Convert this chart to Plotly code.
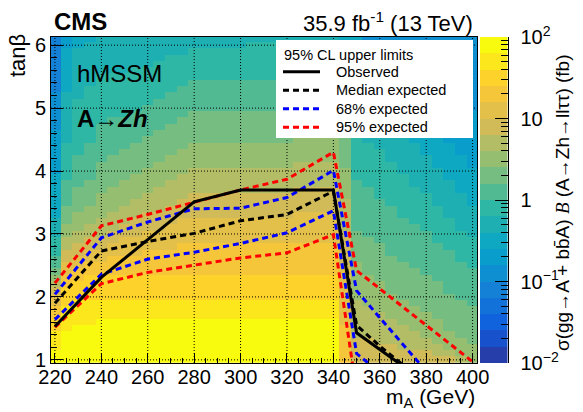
import plotly.graph_objects as go

# ---------------------------------------------------------------- data
# Bin centres of the cross-section map
MA_BINS = [220, 225, 230, 235, 240, 245, 250, 255, 260, 265, 270, 275, 280,
           285, 290, 295, 300, 305, 310, 315, 320, 325, 330, 335, 340, 345,
           350, 355, 360, 365, 370, 375, 380, 385, 390, 395, 400]
TANB_BINS = [1.0, 1.1, 1.2, 1.3, 1.4, 1.5, 1.6, 1.7, 1.8, 1.9,
             2.0, 2.1, 2.2, 2.3, 2.4, 2.5, 2.6, 2.7, 2.8, 2.9,
             3.0, 3.1, 3.2, 3.3, 3.4, 3.5, 3.6, 3.7, 3.8, 3.9,
             4.0, 4.1, 4.2, 4.3, 4.4, 4.5, 4.6, 4.7, 4.8, 4.9,
             5.0, 5.1, 5.2, 5.3, 5.4, 5.5, 5.6, 5.7, 5.8, 5.9,
             6.0, 6.1]

# sigma x B colour band per bin (band 0 = 10^-2 fb ... band 19 = 10^2 fb, 5 bands per decade),
# run-length encoded "band:count" going up in tanb from tanb = 1.0
BAND_RUNS = {
    220: "19:2 18:3 17:2 16:2 15:2 14:1 13:1 12:1 11:1 10:2 9:3 8:3 7:7 6:7 5:6 4:9",
    225: "19:5 18:4 17:3 16:2 15:2 14:2 13:2 12:2 11:3 10:4 9:6 8:8 7:7 6:2",
    230: "19:6 18:4 17:3 16:2 15:2 14:2 13:2 12:3 11:4 10:5 9:9 8:8 7:2",
    235: "19:6 18:4 17:4 16:2 15:2 14:2 13:2 12:3 11:4 10:6 9:9 8:7 7:1",
    240: "19:7 18:3 17:4 16:2 15:2 14:2 13:3 12:4 11:5 10:6 9:8 8:6",
    245: "19:7 18:3 17:4 16:3 15:2 14:2 13:3 12:4 11:5 10:6 9:7 8:6",
    250: "19:7 18:3 17:4 16:3 15:3 14:2 13:3 12:4 11:5 10:5 9:7 8:6",
    255: "19:7 18:3 17:4 16:3 15:3 14:3 13:3 12:4 11:5 10:5 9:7 8:5",
    260: "19:7 18:3 17:4 16:4 15:3 14:3 13:3 12:4 11:5 10:5 9:6 8:5",
    265: "19:7 18:3 17:4 16:4 15:3 14:3 13:4 12:4 11:5 10:5 9:6 8:4",
    270: "19:7 18:3 17:4 16:4 15:4 14:3 13:4 12:4 11:5 10:5 9:6 8:3",
    275: "19:7 18:3 17:4 16:5 15:4 14:3 13:4 12:4 11:5 10:5 9:5 8:3",
    280: "19:7 18:3 17:4 16:5 15:4 14:4 13:4 12:4 11:5 10:5 9:5 8:2",
    285: "19:7 18:3 17:4 16:5 15:4 14:4 13:4 12:4 11:5 10:5 9:5 8:2",
    290: "19:7 18:3 17:4 16:5 15:4 14:4 13:4 12:4 11:5 10:5 9:5 8:2",
    295: "19:7 18:3 17:4 16:5 15:4 14:4 13:4 12:4 11:5 10:5 9:5 8:2",
    300: "19:7 18:3 17:4 16:5 15:4 14:4 13:4 12:4 11:5 10:5 9:5 8:2",
    305: "19:7 18:3 17:4 16:5 15:4 14:4 13:4 12:4 11:5 10:5 9:6 8:1",
    310: "19:7 18:3 17:4 16:5 15:4 14:4 13:4 12:4 11:5 10:5 9:6 8:1",
    315: "19:7 18:3 17:4 16:5 15:4 14:4 13:4 12:4 11:5 10:5 9:6 8:1",
    320: "19:7 18:3 17:4 16:5 15:4 14:4 13:4 12:4 11:5 10:5 9:6 8:1",
    325: "19:7 18:3 17:4 16:5 15:5 14:4 13:4 12:4 11:5 10:5 9:5 8:1",
    330: "19:7 18:3 17:4 16:5 15:5 14:4 13:4 12:4 11:5 10:5 9:5 8:1",
    335: "19:7 18:3 17:4 16:5 15:5 14:4 13:4 12:4 11:5 10:5 9:5 8:1",
    340: "19:7 18:3 17:4 16:5 15:5 14:4 13:4 12:4 11:5 10:5 9:5 8:1",
    345: "16:6 15:9 14:6 13:5 12:5 11:5 10:6 9:6 8:3 7:1",
    350: "14:4 13:6 12:6 11:5 10:8 9:8 8:6 7:9",
    355: "14:4 13:5 12:5 11:6 10:8 9:7 8:8 7:7 6:1 5:1",
    360: "14:3 13:5 12:5 11:6 10:7 9:8 8:7 7:7 6:2 5:2",
    365: "14:3 13:4 12:4 11:6 10:8 9:7 8:7 7:7 6:2 5:4",
    370: "14:2 13:4 12:4 11:6 10:7 9:7 8:7 7:7 6:3 5:5",
    375: "14:2 13:3 12:4 11:6 10:7 9:6 8:7 7:7 6:4 5:6",
    380: "14:2 13:2 12:4 11:6 10:7 9:6 8:6 7:6 6:6 5:7",
    385: "14:1 13:2 12:4 11:6 10:6 9:6 8:6 7:6 6:7 5:8",
    390: "14:1 13:1 12:3 11:6 10:7 9:5 8:6 7:6 6:7 5:10",
    395: "13:1 12:3 11:6 10:6 9:5 8:6 7:6 6:8 5:11",
    400: "12:3 11:6 10:6 9:5 8:5 7:6 6:9 5:12",
}

# 95% CL upper limits on tanb
OBS_MA = [220, 240, 260, 280, 300, 320, 340, 350, 360, 370]
OBS_TANB = [1.53, 2.31, 2.91, 3.51, 3.70, 3.70, 3.70, 1.43, 1.16, 0.90]

EXP_MA = [220, 240, 260, 280, 300, 320, 340, 350, 360, 370]
EXP_TANB = [1.90, 2.73, 2.88, 3.01, 3.21, 3.31, 3.68, 1.55, 1.22, 0.92]

EXP68_UP_MA = [220, 240, 260, 280, 300, 320, 340, 350, 360, 370, 380]
EXP68_UP_TANB = [2.04, 2.94, 3.19, 3.40, 3.41, 3.58, 4.01, 2.10, 1.67, 1.24, 0.82]
EXP68_DN_MA = [220, 240, 260, 280, 300, 320, 340, 350, 360]
EXP68_DN_TANB = [1.64, 2.36, 2.60, 2.71, 2.85, 3.02, 3.37, 1.10, 0.80]

EXP95_UP_MA = [220, 240, 260, 280, 300, 320, 340, 350, 360, 380, 400]
EXP95_UP_TANB = [2.22, 3.13, 3.31, 3.50, 3.70, 3.87, 4.30, 2.42, 2.13, 1.55, 0.97]
EXP95_DN_MA = [220, 240, 260, 280, 300, 320, 340, 350]
EXP95_DN_TANB = [1.52, 2.21, 2.39, 2.50, 2.62, 2.70, 2.99, 0.50]

# axis ticks
X_TICKS = [220, 240, 260, 280, 300, 320, 340, 360, 380, 400]
Y_TICKS = [1, 2, 3, 4, 5, 6]
Z_TICKS = [-2, -1, 0, 1, 2]
Z_TICKTEXT = ["10<sup>\u22122</sup>", "10<sup>\u22121</sup>", "1", "10", "10<sup>2</sup>"]

LEGEND_TITLE = "95% CL upper limits"
LEGEND_LABELS = ["Observed", "Median expected", "68% expected", "95% expected"]

# ---------------------------------------------------------------- style
FONT = "Liberation Sans"
# ROOT kBird palette, one colour per contour band
BAND_COLORS = ["#263EAA", "#1752CC", "#1063DC", "#1272D9", "#1481D6",
               "#0E8FD1", "#099DCC", "#0EA8C2", "#1EAFB3", "#2EB7A4",
               "#52BA92", "#75BD80", "#96BE71", "#B3BD65", "#D1BB59",
               "#E3C04A", "#F5C63A", "#FDD32B", "#FBE71C", "#F9FB0E"]
N_BANDS = len(BAND_COLORS)
Z_MIN, Z_MAX = -2.0, 2.0
BAND_W = (Z_MAX - Z_MIN) / N_BANDS

colorscale = []
for i, c in enumerate(BAND_COLORS):
    colorscale.append([i / N_BANDS, c])
    colorscale.append([(i + 1) / N_BANDS, c])

W, H = 583, 412
ML, MR, MT, MB = 51, 75, 37, 49
PW, PH = W - ML - MR, H - MT - MB


def px(x):
    return (x - ML) / PW


def py(y):
    return 1 - (y - MT) / PH


X_RANGE = [218.3, 401.9]
Y_RANGE = [0.95, 6.13]

DASH = "6px,4px"
LW = 3
RED, BLUE, BLACK = "#FF0000", "#0000FF", "black"
LEGEND_STYLES = [(BLACK, "solid"), (BLACK, DASH), (BLUE, DASH), (RED, DASH)]


def expand(runs):
    out = []
    for tok in runs.split():
        band, n = tok.split(":")
        out += [int(band)] * int(n)
    return out


# log10(sigma x B) at each band centre
band_cols = [expand(BAND_RUNS[m]) for m in MA_BINS]
z = [[Z_MIN + (band_cols[j][i] + 0.5) * BAND_W for j in range(len(MA_BINS))]
     for i in range(len(TANB_BINS))]

fig = go.Figure()

fig.add_trace(go.Heatmap(
    x=MA_BINS, y=TANB_BINS, z=z, colorscale=colorscale,
    zmin=Z_MIN, zmax=Z_MAX, showscale=False, hoverinfo="skip",
))

# colour scale drawn as its own axis pair
band_edges = [Z_MIN + i * BAND_W for i in range(N_BANDS + 1)]
fig.add_trace(go.Heatmap(
    x=[0, 1], y=band_edges,
    z=[[Z_MIN + (i + 0.5) * BAND_W] for i in range(N_BANDS)],
    colorscale=colorscale, zmin=Z_MIN, zmax=Z_MAX, showscale=False,
    hoverinfo="skip", xaxis="x2", yaxis="y2",
))

# dotted grid on top of the map
gx, gy = [], []
for t in X_TICKS:
    gx += [t, t, None]
    gy += [Y_RANGE[0], Y_RANGE[1], None]
for t in Y_TICKS:
    gx += [X_RANGE[0], X_RANGE[1], None]
    gy += [t, t, None]
fig.add_trace(go.Scatter(
    x=gx, y=gy, mode="lines", line=dict(color="black", width=1, dash="1px,2px"),
    showlegend=False, hoverinfo="skip",
))

for xs, ys, col, dash in [
    (EXP95_UP_MA, EXP95_UP_TANB, RED, DASH),
    (EXP95_DN_MA, EXP95_DN_TANB, RED, DASH),
    (EXP68_UP_MA, EXP68_UP_TANB, BLUE, DASH),
    (EXP68_DN_MA, EXP68_DN_TANB, BLUE, DASH),
    (EXP_MA, EXP_TANB, BLACK, DASH),
    (OBS_MA, OBS_TANB, BLACK, "solid"),
]:
    fig.add_trace(go.Scatter(x=xs, y=ys, mode="lines",
                             line=dict(color=col, width=LW, dash=dash),
                             showlegend=False, hoverinfo="skip"))

axis_common = dict(
    showline=True, linecolor="black", linewidth=1, mirror=True,
    ticks="inside", tickcolor="black", tickwidth=1, showgrid=False,
    zeroline=False, tickfont=dict(family=FONT, size=20, color="black"),
)

fig.update_layout(
    width=W, height=H,
    margin=dict(l=ML, r=MR, t=MT, b=MB),
    paper_bgcolor="white", plot_bgcolor="white",
    font=dict(family=FONT, color="black"),
    showlegend=False,
    xaxis=dict(domain=[0, px(477)], range=X_RANGE, tickmode="array",
               tickvals=X_TICKS, ticklen=10, ticklabelstandoff=-4,
               minor=dict(ticks="inside", ticklen=5, dtick=5, tick0=220,
                          tickcolor="black", showgrid=False),
               **axis_common),
    yaxis=dict(range=Y_RANGE, tickmode="array", tickvals=Y_TICKS, ticklen=12,
               minor=dict(ticks="inside", ticklen=6, dtick=0.2, tick0=1,
                          tickcolor="black", showgrid=False),
               **axis_common),
    xaxis2=dict(domain=[px(480), px(507.5)], range=[0, 1], anchor="y2",
                showticklabels=False, ticks="", showline=False, showgrid=False,
                zeroline=False),
    yaxis2=dict(domain=[0, 1], range=[Z_MIN, Z_MAX], anchor="x2", side="right",
                showline=True, linecolor="black", linewidth=1, ticks="inside",
                ticklen=13, tickcolor="black", tickmode="array",
                tickvals=Z_TICKS, ticktext=Z_TICKTEXT, showgrid=False,
                zeroline=False, ticklabelstandoff=8,
                tickfont=dict(family=FONT, size=20, color="black"),
                minor=dict(ticks="inside", ticklen=7, tickcolor="black",
                           tickmode="array", showgrid=False,
                           tickvals=[-2 + d + v for d in range(4) for v in
                                     (0.30103, 0.47712, 0.60206, 0.69897,
                                      0.77815, 0.84510, 0.90309, 0.95424)])),
)

# legend box drawn in the upper right corner of the frame
LEG_L, LEG_R, LEG_T, LEG_B = 276, 473, 40, 138
LEG_Y0, LEG_DY = 71.7, 18.5
shapes = [dict(type="rect", xref="paper", yref="paper",
               x0=px(LEG_L), x1=px(LEG_R), y0=py(LEG_B), y1=py(LEG_T),
               fillcolor="white", line=dict(width=0), layer="above")]
ann = [dict(text=LEGEND_TITLE, x=px(282), y=py(55), xanchor="left",
            yanchor="middle", font=dict(size=14.5))]
for k, (label, (col, dash)) in enumerate(zip(LEGEND_LABELS, LEGEND_STYLES)):
    yk = LEG_Y0 + k * LEG_DY
    shapes.append(dict(type="line", xref="paper", yref="paper",
                       x0=px(283), x1=px(320), y0=py(yk), y1=py(yk),
                       line=dict(color=col, width=LW, dash=dash), layer="above"))
    ann.append(dict(text=label, x=px(334), y=py(yk), xanchor="left",
                    yanchor="middle", font=dict(size=14.5)))

ann += [
    dict(text="<b>CMS</b>", x=px(52), y=py(21), xanchor="left", yanchor="middle",
         font=dict(size=24)),
    dict(text="35.9 fb<sup>-1</sup> (13 TeV)", x=px(475), y=py(22), xanchor="right",
         yanchor="middle", font=dict(size=22)),
    dict(text="hMSSM", x=px(75), y=py(73), xanchor="left", yanchor="middle",
         font=dict(size=24)),
    dict(text="<b>A\u2192<i>Zh</i></b>", x=px(75), y=py(118), xanchor="left",
         yanchor="middle", font=dict(size=24)),
    dict(text="tan\u03b2", x=px(17), y=py(56), textangle=-90, xanchor="center",
         yanchor="middle", font=dict(size=22)),
    dict(text="m<sub>A</sub> (GeV)", x=px(477), y=py(398), xanchor="right",
         yanchor="middle", font=dict(size=21)),
    dict(text="\u03c3(gg\u2192A + bb\u0304A) <i><span style='font-family:Liberation Serif'>B</span></i>"
              " (A\u2192Zh\u2192ll\u03c4\u03c4) (fb)",
         x=px(563), y=py(203), textangle=-90, xanchor="center", yanchor="middle",
         font=dict(size=19)),
]
for a in ann:
    a.update(xref="paper", yref="paper", showarrow=False)
    a["font"] = dict(family=FONT, color="black", **a["font"])
fig.update_layout(annotations=ann, shapes=shapes)

fig.write_html("out.html")
